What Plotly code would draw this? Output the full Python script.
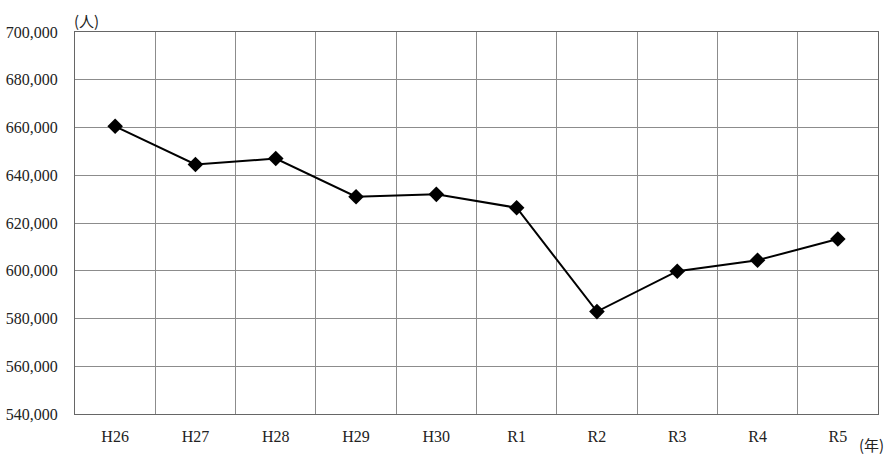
import plotly.graph_objects as go

years = ["H26", "H27", "H28", "H29", "H30", "R1", "R2", "R3", "R4", "R5"]
visitors = [660500, 644500, 647000, 631000, 632000, 626400, 582900, 599800, 604400, 613300]
y_ticks = [540000, 560000, 580000, 600000, 620000, 640000, 660000, 680000, 700000]
y_tick_text = [f"{v:,}" for v in y_ticks]

serif = "'Liberation Serif', 'DejaVu Serif', serif"
cjk = "'Noto Sans CJK JP', sans-serif"
grid = "#8c8c8c"

fig = go.Figure()
fig.add_trace(go.Scatter(
    x=years, y=visitors, mode="lines+markers",
    line=dict(color="black", width=2),
    marker=dict(symbol="diamond", size=12, color="black"),
    showlegend=False,
))

fig.update_layout(
    width=890, height=458,
    margin=dict(l=75, r=12, t=32, b=44, autoexpand=False),
    paper_bgcolor="white", plot_bgcolor="white",
    font=dict(family=serif, size=15, color="#222222"),
    xaxis=dict(
        type="category", tickson="boundaries", showgrid=True,
        range=[-0.5, len(years) - 0.5],
        gridcolor=grid, gridwidth=1, automargin=False,
        showline=True, linecolor="#666666", linewidth=1, mirror=True,
        ticks="", ticklabelstandoff=8,
        tickfont=dict(family=serif, size=16, color="#222222"),
    ),
    yaxis=dict(
        range=[540000, 700000], tickvals=y_ticks, ticktext=y_tick_text,
        showgrid=True, gridcolor=grid, gridwidth=1, automargin=False,
        showline=True, linecolor="#666666", linewidth=1, mirror=True,
        ticks="", ticklabelstandoff=13, zeroline=False,
        tickfont=dict(family=serif, size=16, color="#222222"),
    ),
    annotations=[
        dict(text="(人)", x=0, y=1, xref="paper", yref="paper",
             xanchor="left", yanchor="bottom", showarrow=False,
             font=dict(family=cjk, size=15, color="#222222"),
             xshift=-3, yshift=-1),
        dict(text="(年)", x=1, y=0, xref="paper", yref="paper",
             xanchor="right", yanchor="top", showarrow=False,
             font=dict(family=cjk, size=15, color="#222222"),
             xshift=8, yshift=-18),
    ],
)

fig.write_html(
    "out.html",
    config={"displayModeBar": False},
    post_script="document.body.style.margin='0';document.body.style.padding='0';",
)
